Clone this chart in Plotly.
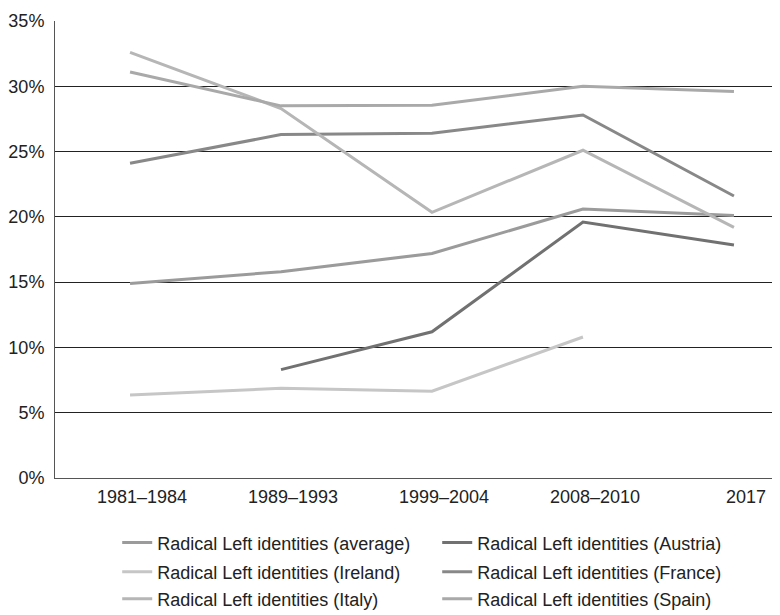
import plotly.graph_objects as go

periods = ["1981–1984", "1989–1993", "1999–2004", "2008–2010", "2017"]

series_names = [
    "Radical Left identities (average)",
    "Radical Left identities (Austria)",
    "Radical Left identities (Ireland)",
    "Radical Left identities (France)",
    "Radical Left identities (Italy)",
    "Radical Left identities (Spain)",
]

average = [14.9, 15.8, 17.2, 20.6, 20.1]
austria = [None, 8.3, 11.2, 19.6, 17.85]
ireland = [6.35, 6.87, 6.65, 10.8, None]
france = [24.1, 26.3, 26.4, 27.8, 21.6]
italy = [32.6, 28.3, 20.35, 25.1, 19.2]
spain = [31.1, 28.5, 28.55, 30.0, 29.6]

series_values = [average, austria, ireland, france, italy, spain]
colors = ["#9b9b9b", "#717171", "#c6c6c6", "#888888", "#b6b6b6", "#a9a9a9"]
legend_rows = ["legend", "legend", "legend2", "legend2", "legend3", "legend3"]

yticks = [0, 5, 10, 15, 20, 25, 30, 35]
ytick_labels = ["0%", "5%", "10%", "15%", "20%", "25%", "30%", "35%"]

fig = go.Figure()
for name, vals, col, lg in zip(series_names, series_values, colors, legend_rows):
    fig.add_trace(go.Scatter(
        x=periods, y=vals, mode="lines", name=name,
        line=dict(color=col, width=3), legend=lg,
    ))

legend_common = dict(
    orientation="h", x=0.0858, xanchor="left", yanchor="middle",
    entrywidth=275, entrywidthmode="pixels",
    font=dict(size=18, color="#222222"),
    traceorder="normal", bgcolor="rgba(0,0,0,0)",
)

# page body has an 8px margin, so the figure is sized/offset to compensate
fig.update_layout(
    width=772, height=607,
    margin=dict(l=47, r=0, t=13, b=137, autoexpand=False),
    paper_bgcolor="white", plot_bgcolor="white",
    font=dict(family="Liberation Sans, Arial, sans-serif", size=18, color="#222222"),
    showlegend=True,
    legend=dict(legend_common, y=-0.142),
    legend2=dict(legend_common, y=-0.206),
    legend3=dict(legend_common, y=-0.265),
)

fig.update_xaxes(
    type="category", range=[-0.497, 4.305], automargin=False,
    showgrid=False, zeroline=False,
    showline=True, linecolor="#555555", linewidth=1,
    ticks="", ticklabelstandoff=2, ticklabelshift=12,
    tickfont=dict(size=18, color="#222222"),
)
fig.update_yaxes(
    range=[0, 35], tickvals=yticks, ticktext=ytick_labels, automargin=False,
    showgrid=True, gridcolor="#222222", gridwidth=1,
    zeroline=False,
    showline=True, linecolor="#555555", linewidth=1,
    ticks="", ticklabelstandoff=6,
    tickfont=dict(size=18, color="#222222"),
)

fig.write_html("out.html")
